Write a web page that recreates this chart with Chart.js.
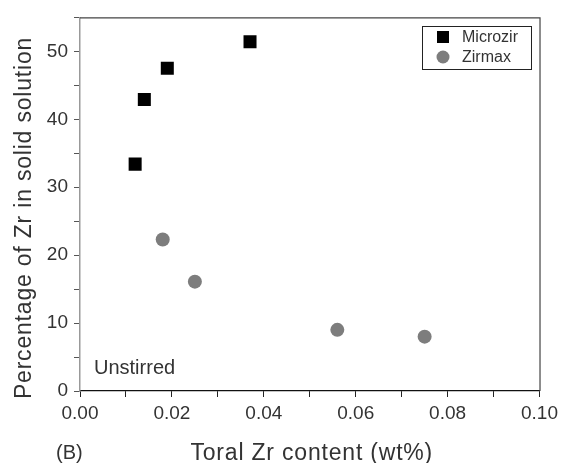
<!DOCTYPE html>
<html>
<head>
<meta charset="utf-8">
<script src="https://cdn.jsdelivr.net/npm/chart.js@4"></script>
<style>
  html, body { margin: 0; padding: 0; background: #ffffff; }
  #wrap { width: 563px; height: 463px; }
</style>
</head>
<body>
<div id="wrap"><canvas id="c" width="563" height="463"></canvas></div>
<script>
// ---- data ----
const seriesNames = ["Microzir", "Zirmax"];
const microzirX = [0.012, 0.014, 0.019, 0.037];
const microzirY = [33.4, 42.9, 47.5, 51.4];
const zirmaxX = [0.018, 0.025, 0.056, 0.075];
const zirmaxY = [22.3, 16.1, 9.0, 8.0];
const xTickLabels = ["0.00", "0.02", "0.04", "0.06", "0.08", "0.10"];
const yTickLabels = ["0", "10", "20", "30", "40", "50"];
const xTitle = "Toral Zr content (wt%)";
const yTitle = "Percentage of Zr in solid solution";
const annotationText = "Unstirred";
const panelLabel = "(B)";

const FONT = "'Liberation Sans', Arial, sans-serif";

const toPoints = (xs, ys) => xs.map((x, i) => ({ x: x, y: ys[i] }));

const extras = {
  id: 'extras',
  afterDraw(chart) {
    const ctx = chart.ctx;
    const a = chart.chartArea;
    ctx.save();
    // frame top & right
    ctx.strokeStyle = '#444';
    ctx.lineWidth = 1.2;
    ctx.beginPath();
    ctx.moveTo(a.left, a.top + 0.5);
    ctx.lineTo(a.right + 0.5, a.top + 0.5);
    ctx.lineTo(a.right + 0.5, a.bottom);
    ctx.stroke();

    // legend
    const lx = 422, ly = 26, lw = 109, lh = 43;
    ctx.fillStyle = '#fff';
    ctx.fillRect(lx, ly, lw, lh);
    ctx.strokeStyle = '#222';
    ctx.lineWidth = 1;
    ctx.strokeRect(lx + 0.5, ly + 0.5, lw, lh);
    ctx.font = '16px ' + FONT;
    ctx.textBaseline = 'middle';
    ctx.textAlign = 'left';
    chart.data.datasets.forEach((ds, i) => {
      const cy = ly + 11 + i * 20;
      const cx = 443;
      ctx.fillStyle = ds.backgroundColor;
      if (ds.pointStyle === 'rect') {
        ctx.fillRect(cx - 6, cy - 6, 12, 12);
      } else {
        ctx.beginPath();
        ctx.arc(cx, cy, 6.5, 0, Math.PI * 2);
        ctx.fill();
      }
      ctx.fillStyle = '#333';
      ctx.fillText(ds.label, 462, cy + 1);
    });

    // annotation texts
    ctx.fillStyle = '#333';
    ctx.font = '20px ' + FONT;
    ctx.textBaseline = 'alphabetic';
    ctx.textAlign = 'left';
    ctx.fillText(annotationText, 94, 374);
    ctx.fillText(panelLabel, 56, 459);

    // axis titles
    ctx.font = '23px ' + FONT;
    try { ctx.letterSpacing = '0.8px'; } catch (e) {}
    ctx.textAlign = 'center';
    ctx.fillText(xTitle, (a.left + a.right) / 2 + 2, 460);
    ctx.save();
    ctx.translate(31, 218);
    ctx.rotate(-Math.PI / 2);
    ctx.fillText(yTitle, 0, 0);
    ctx.restore();
    try { ctx.letterSpacing = '0px'; } catch (e) {}
    ctx.restore();
  }
};

new Chart(document.getElementById('c'), {
  type: 'scatter',
  data: {
    datasets: [
      {
        label: seriesNames[0],
        data: toPoints(microzirX, microzirY),
        pointStyle: 'rect',
        pointRadius: 9.2,
        pointHoverRadius: 9.2,
        backgroundColor: '#000000',
        borderColor: '#000000',
        borderWidth: 0
      },
      {
        label: seriesNames[1],
        data: toPoints(zirmaxX, zirmaxY),
        pointStyle: 'circle',
        pointRadius: 7,
        pointHoverRadius: 7,
        backgroundColor: '#7d7d7d',
        borderColor: '#7d7d7d',
        borderWidth: 0
      }
    ]
  },
  options: {
    responsive: false,
    animation: false,
    devicePixelRatio: 1,
    layout: { padding: { top: 15, right: 21, left: 0, bottom: 0 } },
    plugins: {
      legend: { display: false },
      tooltip: { enabled: false },
      title: { display: false }
    },
    scales: {
      x: {
        type: 'linear',
        min: 0,
        max: 0.1,
        afterFit(scale) { scale.height = 72; },
        border: { display: true, color: '#111', width: 1.2 },
        grid: { display: true, drawOnChartArea: false, drawTicks: true, tickLength: 6, color: '#222' },
        ticks: {
          stepSize: 0.01,
          padding: 5,
          maxRotation: 0,
          autoSkip: false,
          color: '#333',
          font: { size: 19, family: FONT },
          callback: (v, i) => (i % 2 === 0 ? xTickLabels[i / 2] : '')
        }
      },
      y: {
        type: 'linear',
        min: 0,
        max: 55,
        afterFit(scale) { scale.width = 80; },
        border: { display: true, color: '#999', width: 1.5 },
        grid: { display: true, drawOnChartArea: false, drawTicks: true, tickLength: 6, color: '#555' },
        ticks: {
          stepSize: 5,
          padding: 6,
          autoSkip: false,
          color: '#333',
          font: { size: 19, family: FONT },
          callback: (v, i) => (i % 2 === 0 && i / 2 < yTickLabels.length ? yTickLabels[i / 2] : '')
        }
      }
    }
  },
  plugins: [extras]
});
</script>
</body>
</html>
